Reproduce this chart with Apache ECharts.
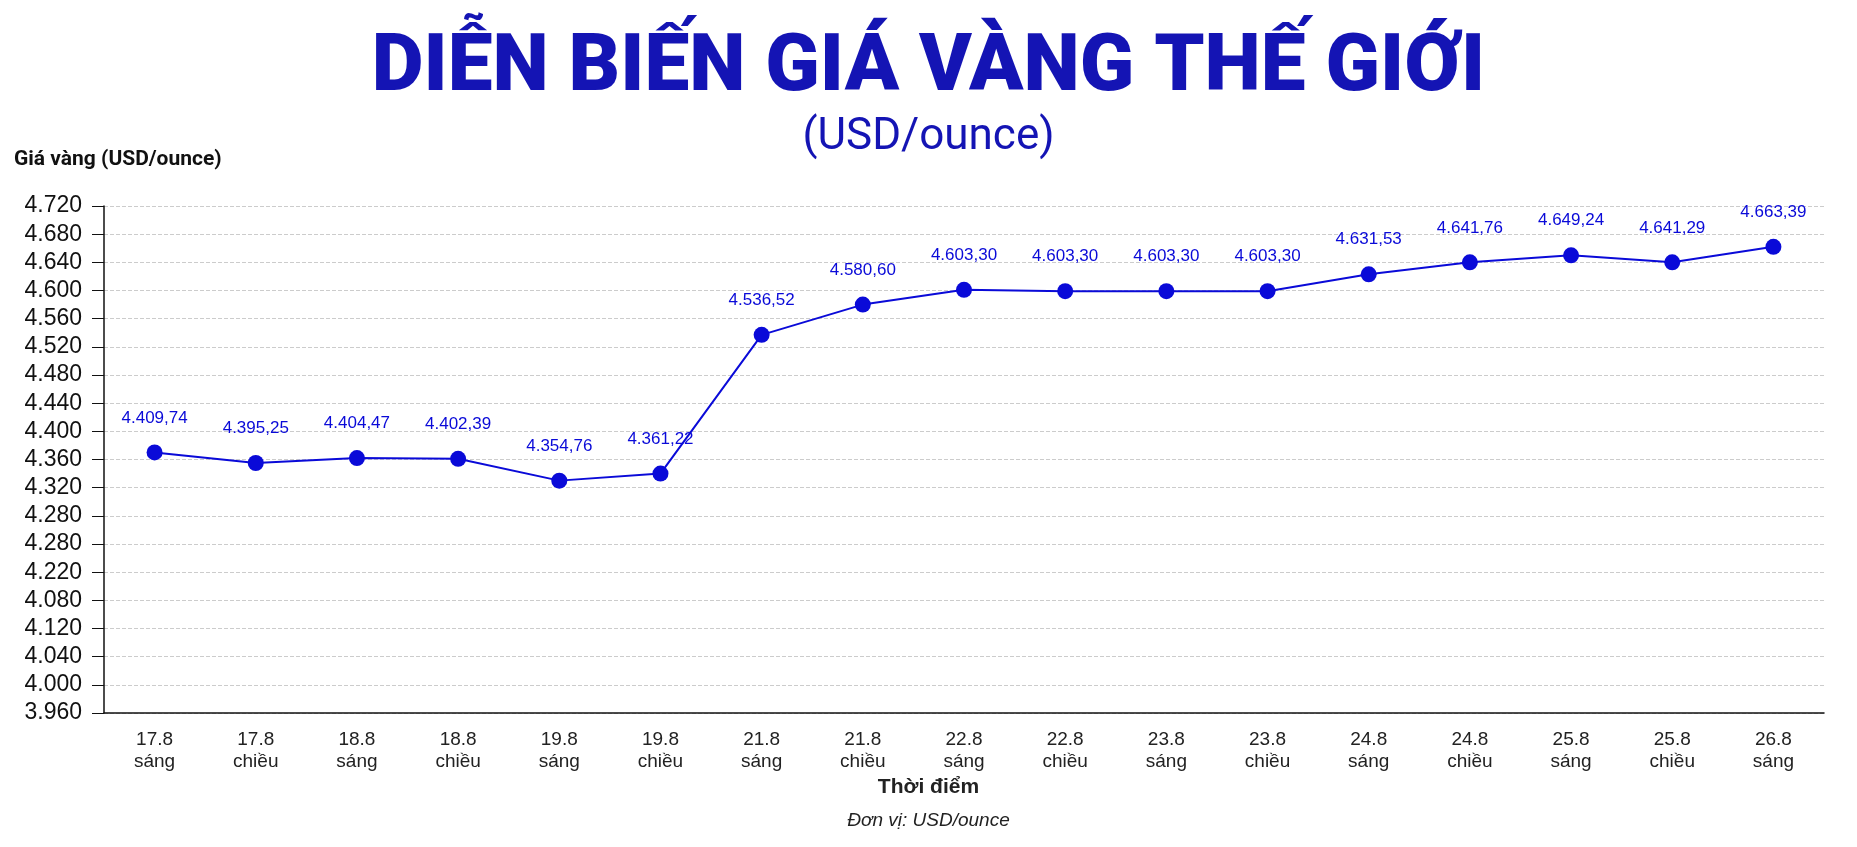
<!DOCTYPE html>
<html><head><meta charset="utf-8">
<script src="https://cdn.jsdelivr.net/npm/echarts@6/dist/echarts.min.js"></script>
<style>html,body{margin:0;background:#fff}#c{width:1857px;height:847px}</style>
</head><body><div id="c"></div>
<script>
const categories = ["17.8\nsáng","17.8\nchiều","18.8\nsáng","18.8\nchiều","19.8\nsáng","19.8\nchiều","21.8\nsáng","21.8\nchiều","22.8\nsáng","22.8\nchiều","23.8\nsáng","23.8\nchiều","24.8\nsáng","24.8\nchiều","25.8\nsáng","25.8\nchiều","26.8\nsáng"];
const plotted = [4370,4355,4362,4361,4330,4340,4537,4580,4601,4599,4599,4599,4623,4640,4650,4640,4662];
const valueLabels = ["4.409,74","4.395,25","4.404,47","4.402,39","4.354,76","4.361,22","4.536,52","4.580,60","4.603,30","4.603,30","4.603,30","4.603,30","4.631,53","4.641,76","4.649,24","4.641,29","4.663,39"];
const tickLabels = ["3.960","4.000","4.040","4.120","4.080","4.220","4.280","4.280","4.320","4.360","4.400","4.440","4.480","4.520","4.560","4.600","4.640","4.680","4.720"];
const chart = echarts.init(document.getElementById('c'));
const blue = '#0a0ad8';
chart.setOption({
  animation:false,
  graphic:[
    {type:'text',left:'center',top:30,style:{text:'DIỄN BIẾN GIÁ VÀNG THẾ GIỚI',font:'900 80px Roboto',fill:'#1414b4'}},
    {type:'text',left:'center',top:116,style:{text:'(USD/ounce)',font:'44px Roboto',fill:'#1414b4'}},
    {type:'text',left:14,top:149,style:{text:'Giá vàng (USD/ounce)',font:'bold 21px Roboto',fill:'#111'}},
    {type:'text',left:'center',top:777,style:{text:'Thời điểm',font:'bold 21px Arial',fill:'#222'}},
    {type:'text',left:'center',top:811,style:{text:'Đơn vị: USD/ounce',font:'italic 19px Arial',fill:'#222'}}
  ],
  grid:{left:104,right:33,top:206,bottom:134},
  xAxis:{type:'category',data:categories,boundaryGap:true,
    axisLine:{lineStyle:{color:'#111',width:1.5}},axisTick:{show:false},
    axisLabel:{color:'#222',fontSize:19,fontFamily:'Arial',lineHeight:22,margin:16}},
  yAxis:{type:'value',min:4000,max:4720,interval:40,
    axisLine:{show:true,lineStyle:{color:'#111',width:1.5}},
    axisTick:{show:true,length:12,lineStyle:{color:'#111'}},
    splitLine:{lineStyle:{color:'#ccc',type:'dashed'}},
    axisLabel:{color:'#111',fontSize:23,fontFamily:'Arial',margin:22,
      formatter:v=>tickLabels[Math.round((v-4000)/40)]}},
  series:[{type:'line',data:plotted,symbol:'circle',symbolSize:16,
    lineStyle:{color:blue,width:2},itemStyle:{color:blue},
    label:{show:true,position:'top',distance:18,color:blue,fontSize:17,fontFamily:'Arial',
      formatter:p=>valueLabels[p.dataIndex]}}]
});
</script></body></html>
